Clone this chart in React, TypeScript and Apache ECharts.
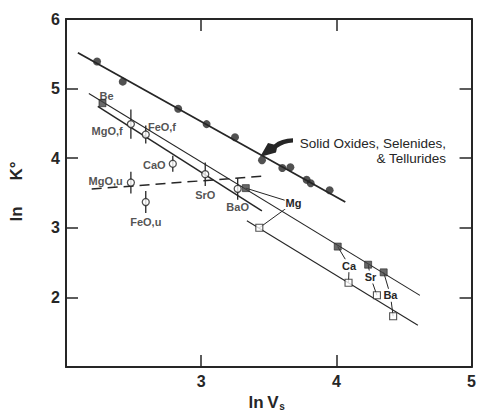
import React, { useEffect, useRef } from "react";
import * as echarts from "echarts";

// Solid oxides, selenides and tellurides (filled circles)
const solidX = [2.23, 2.42, 2.83, 3.04, 3.25, 3.45, 3.6, 3.66, 3.78, 3.81, 3.95];
const solidY = [5.39, 5.1, 4.71, 4.49, 4.3, 3.97, 3.86, 3.87, 3.69, 3.64, 3.54];

// Metals: filled squares and their open-square counterparts
const metalNames = ["Be", "Mg", "Ca", "Sr", "Ba"];
const metalFilledX = [2.27, 3.33, 4.01, 4.235, 4.35];
const metalFilledY = [4.79, 3.57, 2.73, 2.47, 2.36];
const metalOpenNames = ["Mg", "Ca", "Sr", "Ba"];
const metalOpenX = [3.43, 4.09, 4.3, 4.42];
const metalOpenY = [3.0, 2.21, 2.03, 1.73];

// Oxides with error bars (open circles)
const oxideNames = ["MgO,f", "FeO,f", "CaO", "MgO,u", "SrO", "FeO,u", "BaO"];
const oxideX = [2.48, 2.59, 2.79, 2.48, 3.03, 2.59, 3.27];
const oxideY = [4.49, 4.34, 3.92, 3.65, 3.77, 3.37, 3.56];
const oxideErr = [0.21, 0.13, 0.115, 0.157, 0.17, 0.157, 0.157];

// Fitted lines as [x0, y0, x1, y1]
const lineSolid = [2.088, 5.514, 4.066, 3.371];
const lineMetalFilled = [2.169, 4.929, 4.618, 2.029];
const lineMetalOpen = [3.338, 3.1, 4.603, 1.6];
const lineOxide = [2.235, 4.743, 3.449, 3.243];
const lineOxideU = [2.19, 3.557, 3.47, 3.743];

const xTicks = [3, 4, 5];
const yTicks = [2, 3, 4, 5, 6];

const INK = "#262626";
const FONT = '"Liberation Sans", Arial, sans-serif';

// label placement for the open-circle oxides
const oxideLabel: Record<string, any> = {
  "MgO,f": { position: "left", distance: 4, offset: [0, 7] },
  "FeO,f": { position: "right", distance: 0, offset: [-2, -8] },
  CaO: { position: "left", distance: 3, offset: [0, 1] },
  "MgO,u": { position: "left", distance: 4, offset: [0, -2] },
  SrO: { position: "bottom", distance: 11 },
  "FeO,u": { position: "bottom", distance: 10 },
  BaO: { position: "bottom", distance: 9 },
};

// pixel shift of each metal label from the midpoint of its pair
const metalLabelShift: Record<string, number[]> = {
  Mg: [41, -5],
  Ca: [6, 1],
  Sr: [-2, -3],
  Ba: [2, 1],
};

echarts.graphic.registerShape(
  "curvedArrow",
  echarts.graphic.extendPath(
    "M293 138.3 Q281 138.5 274 144.5 L268 143 L260 157 L276 152.5 L277 148 Q284 142.8 293 142.5 Z",
    {}
  )
);

const seg = (s: number[], width: number, type: any = "solid") => ({
  type: "line",
  data: [
    [s[0], s[1]],
    [s[2], s[3]],
  ],
  symbol: "none",
  silent: true,
  z: 1,
  lineStyle: { color: INK, width, type },
});

const labelFont = {
  color: INK,
  fontFamily: FONT,
  fontSize: 11,
  fontWeight: "bold" as const,
};

export default function App() {
  const ref = useRef<HTMLDivElement>(null);

  useEffect(() => {
    if (!ref.current) return;
    const chart = echarts.init(ref.current, null, { renderer: "svg" });

    const axisLine = { show: true, onZero: false, lineStyle: { color: INK, width: 2 } };
    const axisTick = { show: true, inside: true, length: 12, lineStyle: { color: INK, width: 1.5 } };
    const tickLabel = (ticks: number[], margin: number) => ({
      formatter: (v: number) => (ticks.includes(v) ? String(v) : ""),
      color: INK,
      fontFamily: FONT,
      fontSize: 16,
      fontWeight: "bold" as const,
      margin,
    });

    const pairs = metalOpenNames.map((n, i) => {
      const fi = metalNames.indexOf(n);
      return [metalFilledX[fi], metalFilledY[fi], metalOpenX[i], metalOpenY[i]];
    });

    const option: any = {
      animation: false,
      backgroundColor: "#ffffff",
      grid: { left: 66, top: 19, right: 5, bottom: 46 },
      xAxis: [
        {
          type: "value", min: 2, max: 5, interval: 1, position: "bottom",
          axisLine, axisTick, axisLabel: tickLabel(xTicks, 6), splitLine: { show: false },
        },
        {
          type: "value", min: 2, max: 5, interval: 1, position: "top",
          axisLine, axisTick, axisLabel: { show: false }, splitLine: { show: false },
        },
      ],
      yAxis: [
        {
          type: "value", min: 1, max: 6, interval: 1, position: "left",
          axisLine, axisTick, axisLabel: tickLabel(yTicks, 6), splitLine: { show: false },
        },
        {
          type: "value", min: 1, max: 6, interval: 1, position: "right",
          axisLine, axisTick, axisLabel: { show: false }, splitLine: { show: false },
        },
      ],
      series: [
        seg(lineSolid, 1.8),
        seg(lineMetalFilled, 1.1),
        seg(lineMetalOpen, 1.1),
        seg(lineOxide, 1.5),
        seg(lineOxideU, 1.5, [10, 6]),
        {
          // vertical error bars on the oxides
          type: "custom",
          z: 2,
          silent: true,
          data: oxideX.map((x, i) => [x, oxideY[i], oxideErr[i]]),
          renderItem: (_p: any, api: any) => {
            const x = api.value(0);
            const y = api.value(1);
            const e = api.value(2);
            const a = api.coord([x, y - e]);
            const b = api.coord([x, y + e]);
            return {
              type: "line",
              shape: { x1: a[0], y1: a[1], x2: b[0], y2: b[1] },
              style: { stroke: INK, lineWidth: 1.3 },
            };
          },
        },
        {
          // connectors between filled and open metal squares
          type: "custom",
          z: 2,
          silent: true,
          data: pairs,
          renderItem: (p: any, api: any) => {
            const f = api.coord([api.value(0), api.value(1)]);
            const o = api.coord([api.value(2), api.value(3)]);
            const name = metalOpenNames[p.dataIndex];
            const sh = metalLabelShift[name];
            const lx = (f[0] + o[0]) / 2 + sh[0];
            const ly = (f[1] + o[1]) / 2 + sh[1];
            return {
              type: "group",
              children: [
                {
                  type: "line",
                  shape: { x1: f[0], y1: f[1], x2: lx, y2: ly },
                  style: { stroke: INK, lineWidth: 1 },
                },
                {
                  type: "line",
                  shape: { x1: o[0], y1: o[1], x2: lx, y2: ly },
                  style: { stroke: INK, lineWidth: 1 },
                },
                {
                  type: "text",
                  x: lx,
                  y: ly,
                  z2: 10,
                  style: {
                    text: name,
                    fill: INK,
                    font: `bold 11px ${FONT}`,
                    align: "center",
                    verticalAlign: "middle",
                    backgroundColor: "#ffffff",
                    padding: [1, 1, 1, 1],
                  },
                },
              ],
            };
          },
        },
        {
          type: "scatter",
          z: 3,
          symbol: "circle",
          symbolSize: 8,
          itemStyle: { color: INK },
          data: solidX.map((x, i) => [x, solidY[i]]),
        },
        {
          type: "scatter",
          z: 3,
          symbol: "rect",
          symbolSize: 7,
          itemStyle: { color: "#444444", borderColor: INK, borderWidth: 0.8 },
          data: metalFilledX.map((x, i) => ({
            value: [x, metalFilledY[i]],
            label:
              metalNames[i] === "Be"
                ? { show: true, formatter: "Be", position: "top", distance: 0, offset: [4, 2], ...labelFont }
                : { show: false },
          })),
        },
        {
          type: "scatter",
          z: 3,
          symbol: "rect",
          symbolSize: 7,
          itemStyle: { color: "#ffffff", borderColor: INK, borderWidth: 1.1 },
          data: metalOpenX.map((x, i) => [x, metalOpenY[i]]),
        },
        {
          type: "scatter",
          z: 4,
          symbol: "circle",
          symbolSize: 7,
          itemStyle: { color: "#ffffff", borderColor: INK, borderWidth: 1.3 },
          data: oxideX.map((x, i) => ({
            value: [x, oxideY[i]],
            label: { show: true, formatter: oxideNames[i], ...labelFont, ...oxideLabel[oxideNames[i]] },
          })),
        },
      ],
      graphic: [
        {
          type: "text",
          x: 16,
          y: 171,
          rotation: Math.PI / 2,
          style: { text: "K°", font: `bold 17px ${FONT}`, fill: INK, align: "center", verticalAlign: "middle" },
        },
        {
          type: "text",
          x: 16,
          y: 214,
          rotation: Math.PI / 2,
          style: { text: "ln", font: `bold 17px ${FONT}`, fill: INK, align: "center", verticalAlign: "middle" },
        },
        {
          type: "text",
          x: 256,
          y: 402,
          style: { text: "ln", font: `bold 17px ${FONT}`, fill: INK, align: "center", verticalAlign: "middle" },
        },
        {
          type: "text",
          x: 273,
          y: 402,
          style: { text: "V", font: `bold 17px ${FONT}`, fill: INK, align: "center", verticalAlign: "middle" },
        },
        {
          type: "text",
          x: 282,
          y: 406,
          style: { text: "s", font: `bold 10px ${FONT}`, fill: INK, align: "center", verticalAlign: "middle" },
        },
        {
          type: "text",
          x: 446,
          y: 143,
          style: { text: "Solid Oxides, Selenides,", font: `13.5px ${FONT}`, fill: INK, align: "right", verticalAlign: "middle" },
        },
        {
          type: "text",
          x: 446,
          y: 158,
          style: { text: "& Tellurides", font: `13.5px ${FONT}`, fill: INK, align: "right", verticalAlign: "middle" },
        },
        {
          type: "curvedArrow",
          x: 0,
          y: 0,
          z: 100,
          style: { fill: INK },
        },
      ],
    };

    chart.setOption(option);
    return () => chart.dispose();
  }, []);

  return (
    <div
      ref={ref}
      style={{ position: "fixed", left: 0, top: 0, width: 479, height: 413, background: "#fff" }}
    />
  );
}
